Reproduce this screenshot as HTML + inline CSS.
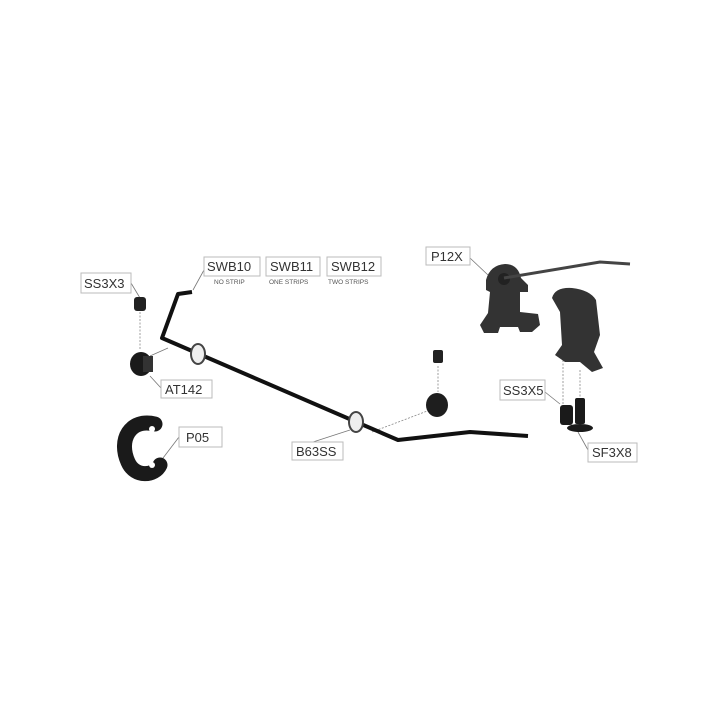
<!DOCTYPE html>
<html><head><style>
body{margin:0;background:#fff}
svg{display:block}
text{font-family:"Liberation Sans",sans-serif;fill:#333}
.b{fill:#fff;stroke:#bbb;stroke-width:1}
.l{stroke:#777;stroke-width:0.8;fill:none}
.d{stroke:#888;stroke-width:0.8;stroke-dasharray:2,1.5;fill:none}
.t{font-size:13px}
.s{font-size:6.5px;fill:#555}
</style></head><body>
<svg width="720" height="720" viewBox="0 0 720 720">
<path class="l" d="M204,270 L193,290"/>
<path class="l" d="M131,283 L140,298"/>
<path class="l" d="M168,348 L150,356"/>
<path class="l" d="M161,388 L150,376"/>
<path class="l" d="M179,437 L160,462"/>
<path class="l" d="M313,442 L350,430"/>
<path class="l" d="M470,258 L488,275"/>
<path class="l" d="M545,392 L560,404"/>
<path class="l" d="M588,450 L578,432"/>
<path class="d" d="M372,432 L430,410"/>
<path class="d" d="M140,312 L140,350"/>
<path class="d" d="M438,366 L438,392"/>
<path class="d" d="M563,360 L563,405"/>
<path class="d" d="M580,370 L580,410"/>
<path d="M192,292 L178,294 L162,338 L398,440 L470,432 L528,436" stroke="#111" stroke-width="4" fill="none" stroke-linejoin="round"/>
<ellipse cx="198" cy="354" rx="7" ry="10" fill="#eee" stroke="#444" stroke-width="2"/>
<ellipse cx="356" cy="422" rx="7" ry="10" fill="#eee" stroke="#444" stroke-width="2"/>
<ellipse cx="141" cy="364" rx="11" ry="12" fill="#1a1a1a"/>
<rect x="143" y="356" width="10" height="16" fill="#333"/>
<rect x="134" y="297" width="12" height="14" rx="3" fill="#222"/>
<path d="M155,424 C130,418 118,440 128,462 C135,478 155,476 160,465" stroke="#1a1a1a" stroke-width="15" fill="none" stroke-linecap="round"/>
<circle cx="152" cy="429" r="3" fill="#fff"/><circle cx="152" cy="465" r="3" fill="#fff"/>
<rect x="433" y="350" width="10" height="13" rx="2" fill="#222"/>
<ellipse cx="437" cy="405" rx="11" ry="12" fill="#1e1e1e"/>
<!-- P12X part: top head, pillar, base with feet -->
<path d="M486,280 Q490,265 505,264 Q518,264 521,278 L528,285 L528,292 L520,292 L520,312 L538,314 L540,325 L532,332 L520,332 L518,327 L500,327 L498,333 L484,333 L480,325 L488,313 L490,292 L486,290 Z" fill="#333"/>
<circle cx="504" cy="279" r="6" fill="#222"/>
<path d="M504,278 L600,262 L630,264" stroke="#444" stroke-width="3" fill="none"/>
<!-- second part -->
<path d="M552,298 Q555,287 572,288 Q590,290 596,300 L600,335 L594,352 L603,368 L592,372 L580,362 L565,362 L555,355 L562,345 L560,312 Z" fill="#333"/>
<rect x="560" y="405" width="13" height="20" rx="3" fill="#1a1a1a"/>
<rect x="575" y="398" width="10" height="26" rx="2" fill="#1a1a1a"/>
<ellipse cx="580" cy="428" rx="13" ry="4" fill="#1a1a1a"/>
<rect class="b" x="81" y="273" width="50" height="20"/><text class="t" x="84" y="288">SS3X3</text>
<rect class="b" x="204" y="257" width="56" height="19"/><text class="t" x="207" y="271">SWB10</text>
<text class="s" x="214" y="284">NO STRIP</text>
<rect class="b" x="266" y="257" width="54" height="19"/><text class="t" x="270" y="271">SWB11</text>
<text class="s" x="269" y="284">ONE STRIPS</text>
<rect class="b" x="327" y="257" width="54" height="19"/><text class="t" x="331" y="271">SWB12</text>
<text class="s" x="328" y="284">TWO STRIPS</text>
<rect class="b" x="161" y="380" width="51" height="18"/><text class="t" x="165" y="394">AT142</text>
<rect class="b" x="179" y="427" width="43" height="20"/><text class="t" x="186" y="442">P05</text>
<rect class="b" x="292" y="442" width="51" height="18"/><text class="t" x="296" y="456">B63SS</text>
<rect class="b" x="426" y="247" width="44" height="18"/><text class="t" x="431" y="261">P12X</text>
<rect class="b" x="500" y="380" width="45" height="20"/><text class="t" x="503" y="395">SS3X5</text>
<rect class="b" x="588" y="443" width="49" height="19"/><text class="t" x="592" y="457">SF3X8</text>
</svg>
</body></html>
